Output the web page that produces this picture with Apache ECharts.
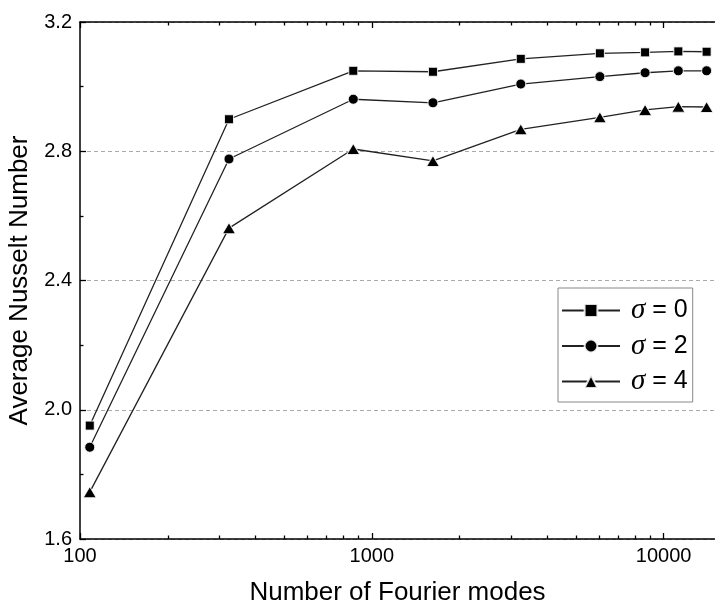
<!DOCTYPE html>
<html>
<head>
<meta charset="utf-8">
<script src="https://cdn.jsdelivr.net/npm/echarts@6/dist/echarts.min.js"></script>
<style>html,body{margin:0;padding:0;background:#fff}#c{width:715px;height:607px}</style>
</head>
<body>
<div id="c"></div>
<script>
const fourierModes = [108, 324, 864, 1620, 3240, 6048, 8640, 11232, 14040];
const nuSigma0 = [1.951, 2.899, 3.049, 3.046, 3.086, 3.103, 3.106, 3.109, 3.108];
const nuSigma2 = [1.884, 2.776, 2.961, 2.950, 3.008, 3.031, 3.043, 3.049, 3.049];
const nuSigma4 = [1.745, 2.562, 2.807, 2.770, 2.868, 2.905, 2.928, 2.938, 2.937];
const seriesNames = ['σ = 0', 'σ = 2', 'σ = 4'];
const xMajorTicks = [100, 1000, 10000];
const xMinorTicks = [200, 300, 400, 500, 600, 700, 800, 900, 2000, 3000, 4000, 5000, 6000, 7000, 8000, 9000];

const FONT = 'Liberation Sans, Arial, sans-serif';
const chart = echarts.init(document.getElementById('c'), null, {renderer: 'canvas'});

function logAxis(pos, ticks, len, showLine, showLabel) {
  return {
    type: 'log', logBase: 10, min: 100, max: 15000, position: pos,
    axisLine: {show: showLine, onZero: false, lineStyle: {color: '#000', width: 1.5}},
    axisTick: {show: true, inside: true, length: len, customValues: ticks, lineStyle: {color: '#000', width: 1.3}},
    axisLabel: {show: showLabel, customValues: xMajorTicks, color: '#000', fontSize: 20, fontFamily: FONT, margin: 7,
      formatter: v => String(Math.round(v))},
    splitLine: {show: false}, minorTick: {show: false}
  };
}

const sym = ['rect', 'circle', 'triangle'];
const sizes = [9, 10, [13, 11]];
const data = [nuSigma0, nuSigma2, nuSigma4];

chart.setOption({
  animation: false,
  backgroundColor: '#fff',
  grid: {left: 80, right: 0, top: 22, bottom: 68, outerBoundsMode: 'none', containLabel: false},
  legend: {
    left: 558, top: 288, orient: 'vertical',
    data: seriesNames,
    itemWidth: 58, itemHeight: 16, itemGap: 6.5,
    borderColor: '#888', borderWidth: 1, borderRadius: 0,
    padding: [8, 5, 6, 3],
    textStyle: {
      color: '#000', fontSize: 25, fontFamily: FONT, lineHeight: 26,
      rich: {s: {fontFamily: 'Liberation Serif, Times New Roman, serif', fontStyle: 'italic', fontSize: 29, lineHeight: 26, color: '#000', padding: [0, 0, 0, 6]},
             t: {fontSize: 25, lineHeight: 26, fontFamily: FONT, color: '#000'}}
    },
    formatter: n => '{s|σ}{t|' + n.slice(1) + '}'
  },
  xAxis: [
    Object.assign(logAxis('bottom', xMajorTicks, 6, true, true), {
      name: 'Number of Fourier modes', nameLocation: 'middle', nameGap: 41,
      nameTextStyle: {fontSize: 26, fontFamily: FONT, color: '#000'}
    }),
    logAxis('bottom', xMinorTicks, 3.5, false, false),
    logAxis('top', xMajorTicks, 6, true, false),
    logAxis('top', xMinorTicks, 3.5, false, false)
  ],
  yAxis: {
    type: 'value', min: 1.6, max: 3.2, interval: 0.4,
    name: 'Average Nusselt Number', nameLocation: 'middle', nameGap: 41,
    nameTextStyle: {fontSize: 26, fontFamily: FONT, color: '#000'},
    axisLine: {show: true, lineStyle: {color: '#000', width: 1.5}},
    axisTick: {inside: true, length: 6, lineStyle: {color: '#000', width: 1.3}},
    minorTick: {show: true, splitNumber: 2, length: 3.5, lineStyle: {color: '#000', width: 1.3}},
    axisLabel: {color: '#000', fontSize: 20, fontFamily: FONT, margin: 8, formatter: v => v.toFixed(1)},
    splitLine: {show: true, lineStyle: {color: '#aaa', type: [4, 3], width: 1}}
  },
  series: seriesNames.map((n, i) => ({
    name: n, type: 'line', xAxisIndex: 0,
    data: fourierModes.map((x, j) => [x, data[i][j]]),
    symbol: sym[i], symbolSize: sizes[i], showAllSymbol: true,
    lineStyle: {color: '#222', width: 1.3},
    itemStyle: {color: '#000', borderColor: 'rgba(255,255,255,0.85)', borderWidth: 1}
  }))
});
</script>
</body>
</html>
